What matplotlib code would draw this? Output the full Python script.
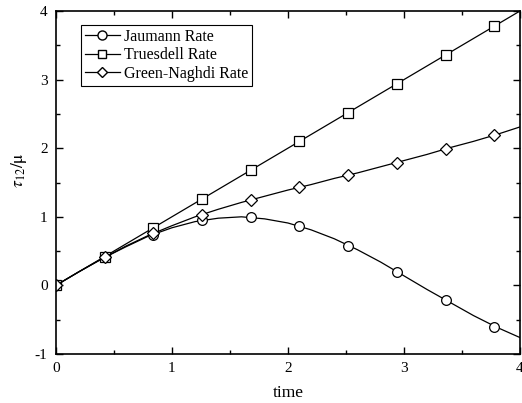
import matplotlib
matplotlib.use("Agg")
import matplotlib.pyplot as plt
from matplotlib.ticker import MultipleLocator

plt.rcParams["font.family"] = "Liberation Serif"
plt.rcParams["mathtext.fontset"] = "stix"
plt.rcParams["axes.unicode_minus"] = False

# curve data
t_line = [0.0, 0.2, 0.4, 0.6, 0.8, 1.0, 1.2, 1.4, 1.6, 1.8, 2.0,
          2.2, 2.4, 2.6, 2.8, 3.0, 3.2, 3.4, 3.6, 3.8, 4.0]
jaumann_line = [0.0, 0.2, 0.39, 0.56, 0.72, 0.84, 0.93, 0.98, 1.0, 0.97, 0.91,
                0.81, 0.68, 0.52, 0.34, 0.14, -0.06, -0.25, -0.44, -0.61, -0.76]
green_line = [0.0, 0.2, 0.39, 0.57, 0.73, 0.87, 1.0, 1.11, 1.21, 1.30, 1.39,
              1.47, 1.56, 1.64, 1.73, 1.82, 1.91, 2.01, 2.10, 2.20, 2.31]
t_trues = [0.0, 4.0]
trues_line = [0.0, 4.0]

# marker positions
t_mark = [0.0, 0.42, 0.84, 1.26, 1.68, 2.1, 2.52, 2.94, 3.36, 3.78]
jaumann_mark = [0.0, 0.41, 0.74, 0.95, 0.99, 0.86, 0.58, 0.20, -0.21, -0.60]
trues_mark = [0.0, 0.42, 0.84, 1.26, 1.68, 2.1, 2.52, 2.94, 3.36, 3.78]
green_mark = [0.0, 0.41, 0.76, 1.03, 1.24, 1.43, 1.61, 1.79, 1.99, 2.20]

fig = plt.figure(figsize=(5.22, 4.03), dpi=100)
ax = fig.add_axes([0.107, 0.1216, 0.889, 0.851])

mk = dict(markersize=7, markerfacecolor="white", markeredgecolor="black",
          markeredgewidth=0.9, linestyle="none")

ax.plot(t_line, jaumann_line, color="black", lw=0.9)
ax.plot(t_mark, jaumann_mark, marker="o", **mk)
ax.plot(t_trues, trues_line, color="black", lw=0.9)
ax.plot(t_mark, trues_mark, marker="s", **{**mk, "markersize": 6.5})
ax.plot(t_line, green_line, color="black", lw=0.9)
ax.plot(t_mark, green_mark, marker="D", **{**mk, "markersize": 6})

# legend proxies
h1, = ax.plot([], [], color="black", lw=0.9, marker="o", markersize=6.5,
              markerfacecolor="white", markeredgecolor="black")
h2, = ax.plot([], [], color="black", lw=0.9, marker="s", markersize=6,
              markerfacecolor="white", markeredgecolor="black")
h3, = ax.plot([], [], color="black", lw=0.9, marker="D", markersize=5.5,
              markerfacecolor="white", markeredgecolor="black")
leg = ax.legend([h1, h2, h3], ["Jaumann Rate", "Truesdell Rate", "Green-Naghdi Rate"],
                loc="upper left", bbox_to_anchor=(0.054, 0.96), fontsize=11.5,
                fancybox=False, edgecolor="black", framealpha=1,
                handlelength=2.2, handletextpad=0.25, borderpad=0.25,
                labelspacing=0.15, borderaxespad=0)
leg.get_frame().set_linewidth(0.8)

ax.set_xlim(0, 4)
ax.set_ylim(-1, 4)
ax.xaxis.set_major_locator(MultipleLocator(1))
ax.xaxis.set_minor_locator(MultipleLocator(0.5))
ax.yaxis.set_major_locator(MultipleLocator(1))
ax.yaxis.set_minor_locator(MultipleLocator(0.5))
ax.tick_params(which="both", direction="in", top=True, right=True, labelsize=11, pad=6)
ax.tick_params(which="major", length=5, width=1)
ax.tick_params(which="minor", length=3, width=1)
for s in ax.spines.values():
    s.set_linewidth(1.2)

ax.set_xlabel("time", fontsize=12.5, va="center")
ax.xaxis.set_label_coords(0.5, -0.114)
ax.set_ylabel(r"$\tau_{12}/\mathrm{\mu}$", fontsize=12.5, va="center")
ax.yaxis.set_label_coords(-0.08, 0.536)

fig.savefig("out.png", dpi=100)
